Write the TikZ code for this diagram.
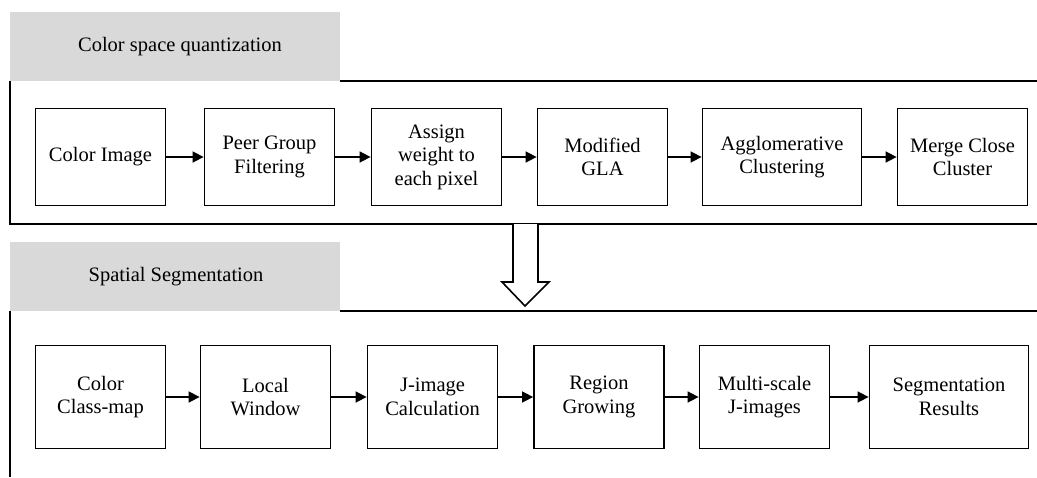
\documentclass[tikz,border=0pt]{standalone}
\usepackage{fontspec}
\setmainfont{Liberation Serif}
\usetikzlibrary{arrows.meta}
\definecolor{tabgray}{RGB}{217,217,217}
\tikzset{
  stage/.style={draw, line width=1.8pt, minimum height=97pt, minimum width=130pt,
    align=center, inner sep=2pt, font=\fontsize{20.5}{23.5}\selectfont},
  wide/.style={minimum width=159pt},
  flow/.style={line width=1.6pt, -{Triangle[length=11pt,width=11pt]}},
  frame/.style={line width=1.8pt},
  tab/.style={fill=tabgray, draw=none},
  tabtext/.style={font=\fontsize{20.5}{23.5}\selectfont}
}
\begin{document}
\begin{tikzpicture}[x=1pt,y=-1pt]
        \def\rowA{157}
        \def\rowB{397}
        \useasboundingbox (0,0) rectangle (1037,477);
        % 第一部分：颜色量化
        \fill[tab] (10,12) rectangle (340,81);
        \node[tabtext] (tabA) at (180,47) {Color space quantization};
        \draw[frame] (340,81) -- (1037,81);
        \draw[frame] (10,81) -- (10,224) -- (1037,224);
        \node[stage] (colorimg) at (100.5,\rowA) {Color Image};
        \node[stage] (peer) at (269.5,\rowA) {Peer Group\\Filtering};
        \node[stage] (weight) at (436.5,\rowA) {Assign\\weight to\\each pixel};
        \node[stage] (gla) at (602.5,\rowA) {Modified\\GLA};
        \node[stage, wide] (agglo) at (782,\rowA) {Agglomerative\\Clustering};
        \node[stage] (merge) at (962.5,\rowA) {Merge Close\\Cluster};
        \draw[flow] (colorimg) -- (peer);
        \draw[flow] (peer) -- (weight);
        \draw[flow] (weight) -- (gla);
        \draw[flow] (gla) -- (agglo);
        \draw[flow] (agglo) -- (merge);
        % 空心箭头
        \draw[line width=1.6pt, fill=white] (513,224) -- (513,282) -- (502,282) -- (525,306)
          -- (549,282) -- (538,282) -- (538,224);
        % 第二部分：空间分割
        \fill[tab] (10,242) rectangle (340,311);
        \node[tabtext] (tabB) at (176,277) {Spatial Segmentation};
        \draw[frame] (340,311) -- (1037,311);
        \draw[frame] (10,311) -- (10,477);
        \node[stage, minimum height=103pt] (classmap) at (100.5,\rowB) {Color\\Class-map};
        \node[stage, minimum height=103pt] (localwin) at (265.5,\rowB) {Local\\Window};
        \node[stage, minimum height=103pt] (jcalc) at (432.5,\rowB) {J-image\\Calculation};
        \node[stage, minimum height=103pt] (growing) at (599,\rowB) {Region\\Growing};
        \node[stage, minimum height=103pt] (multiscale) at (764.5,\rowB) {Multi-scale\\J-images};
        \node[stage, wide, minimum height=103pt] (results) at (949,\rowB) {Segmentation\\Results};
        \draw[flow] (classmap) -- (localwin);
        \draw[flow] (localwin) -- (jcalc);
        \draw[flow] (jcalc) -- (growing);
        \draw[flow] (growing) -- (multiscale);
        \draw[flow] (multiscale) -- (results);
    \end{tikzpicture}
\end{document}
